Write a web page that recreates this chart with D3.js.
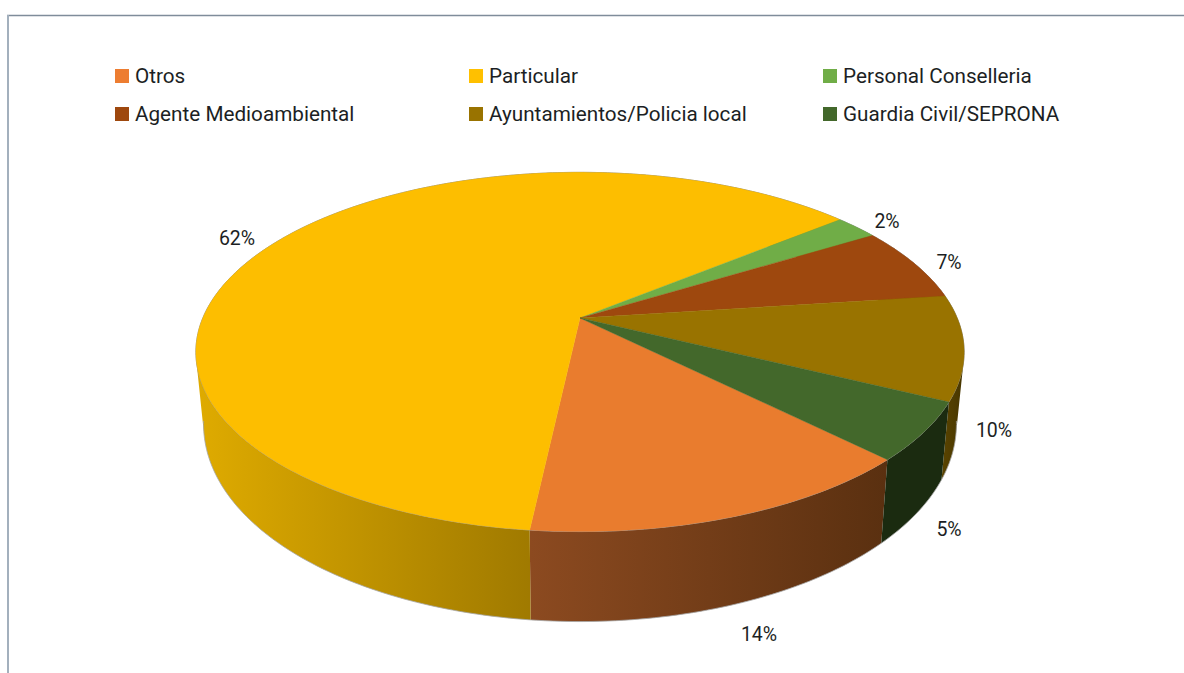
<!DOCTYPE html>
<html>
<head>
<meta charset="utf-8">
<script src="https://cdn.jsdelivr.net/npm/d3@7"></script>
<style>
  html, body { margin: 0; padding: 0; background: #fff; overflow: hidden; }
  text { font-family: "Roboto", sans-serif; fill: #1c1f24; }
</style>
</head>
<body>
<svg id="chart" width="1184" height="673"></svg>
<script>
var categories = ["Otros", "Particular", "Personal Conselleria", "Agente Medioambiental", "Ayuntamientos/Policia local", "Guardia Civil/SEPRONA"];
var values = [14.2, 62.3, 2.2, 6.7, 9.4, 5.2];
var labels = ["14%", "62%", "2%", "7%", "10%", "5%"];
var colors = ["#ED7D31", "#FFC000", "#70AD47", "#9E480E", "#997300", "#43682B"];
var topColors = ["#E97C2E", "#FDBE00", "#70AD47", "#9E480E", "#997300", "#43682B"];
var sideFrom = ["#8C4A20", "#DFAB00", "#4A7030", "#6A3009", "#5E4700", "#1B2B10"];
var sideTo = ["#5A3010", "#A07A00", "#4A7030", "#6A3009", "#463500", "#1B2B10"];

var svg = d3.select("#chart");
var deg = Math.PI / 180;

// frame
svg.append("line").attr("x1", 7).attr("x2", 1184).attr("y1", 15.5).attr("y2", 15.5)
  .attr("stroke", "#7f8c9a").attr("stroke-width", 1.5);
svg.append("line").attr("x1", 8).attr("x2", 8).attr("y1", 15).attr("y2", 673)
  .attr("stroke", "#a3b0bd").attr("stroke-width", 2);

// legend
var legendX = d3.scalePoint().domain([0, 1, 2]).range([115, 823]);
var legendY = d3.scalePoint().domain([0, 1]).range([69, 107]);
var legend = svg.selectAll(".legend").data(categories).enter().append("g")
  .attr("class", "legend")
  .attr("transform", function(d, i) {
    var row = i < 3 ? 0 : 1;
    return "translate(" + legendX(i % 3) + "," + legendY(row) + ")";
  });
legend.append("rect").attr("width", 14).attr("height", 14)
  .attr("fill", function(d, i) { return colors[i]; });
legend.append("text").attr("x", 20).attr("y", 14)
  .style("font-size", "20.7px")
  .text(function(d) { return d; });

// tilted disc: a circle seen with perspective, hub sits above the ellipse centre
var persp = -0.189;
var topX = d3.scaleLinear().domain([-1, 1]).range([580 - 377.2, 580 + 377.2]);
var topY = d3.scaleLinear().domain([-1, 1]).range([318 - 173.2, 318 + 173.2]);
// lower rim is a bit narrower, wall gets taller towards the viewer
var lowX = d3.scaleLinear().domain([-1, 1]).range([580 - 377.2 * 0.98, 580 + 377.2 * 0.98]);
var wall = d3.scaleLinear().domain([0, 1]).range([68, 90]);

function project(a) {
  var u = Math.sin(a), v = -Math.cos(a), w = 1 + persp * v;
  return [topX(u / w), topY(v / w)];
}
function projectLow(a) {
  var u = Math.sin(a), v = -Math.cos(a), w = 1 + persp * v;
  return [lowX(u / w), topY(v / w) + wall(v)];
}
function arcPoints(fn, a0, a1) {
  var n = Math.max(2, Math.ceil((a1 - a0) / deg));
  return d3.range(n + 1).map(function(i) {
    return fn(a0 + (a1 - a0) * i / n);
  });
}

var pie = d3.pie().sort(null)
  .startAngle(135.1 * deg)
  .endAngle(495.1 * deg);
var slices = pie(values);
var line = d3.line();
var defs = svg.append("defs");

// sides first, the top face covers whatever is behind it
slices.forEach(function(s, i) {
  var upper = arcPoints(project, s.startAngle, s.endAngle);
  var lower = arcPoints(projectLow, s.startAngle, s.endAngle);
  var pts = upper.concat(lower);
  var grad = defs.append("linearGradient")
    .attr("id", "side" + i)
    .attr("gradientUnits", "userSpaceOnUse")
    .attr("x1", d3.min(pts, function(p) { return p[0]; }))
    .attr("x2", i == 1 ? upper[0][0] : d3.max(pts, function(p) { return p[0]; }))
    .attr("y1", 0).attr("y2", 0);
  grad.append("stop").attr("offset", "0%").attr("stop-color", sideFrom[i]);
  grad.append("stop").attr("offset", "100%").attr("stop-color", sideTo[i]);
  // quads all wound the same way so the band can fold at the silhouette without holes
  var d = d3.range(upper.length - 1).map(function(k) {
    var quad = [upper[k], upper[k + 1], lower[k + 1], lower[k]];
    if (d3.polygonArea(quad) < 0) quad.reverse();
    return line(quad) + "Z";
  }).join("");
  svg.append("path")
    .attr("d", d)
    .attr("fill", "url(#side" + i + ")");
});

// thin grey rim
svg.append("path")
  .attr("d", line(arcPoints(projectLow, 100 * deg, 260 * deg)))
  .attr("fill", "none").attr("stroke", "#a6a6a6").attr("stroke-width", 0.8);
svg.append("path")
  .attr("d", line(arcPoints(project, 0, 360 * deg)) + "Z")
  .attr("fill", "none").attr("stroke", "#9a9a9a").attr("stroke-width", 1);

// top face
slices.forEach(function(s, i) {
  var hub = [topX(0), topY(0)];
  var pts = [hub].concat(arcPoints(project, s.startAngle, s.endAngle));
  svg.append("path")
    .attr("d", line(pts) + "Z")
    .attr("fill", topColors[i])
    .attr("stroke", topColors[i])
    .attr("stroke-width", 0.4);
});

// labels were placed by hand in the original, so they get a fixed spot
var labelAt = [[759, 634], [237, 238], [887, 221], [949, 262], [994, 430], [949, 529]];
svg.selectAll(".pct").data(labels).enter().append("text")
  .attr("class", "pct")
  .attr("x", function(d, i) { return labelAt[i][0]; })
  .attr("y", function(d, i) { return labelAt[i][1]; })
  .attr("text-anchor", "middle")
  .attr("dominant-baseline", "central")
  .style("font-size", "19.5px")
  .text(function(d) { return d; });
</script>
</body>
</html>
